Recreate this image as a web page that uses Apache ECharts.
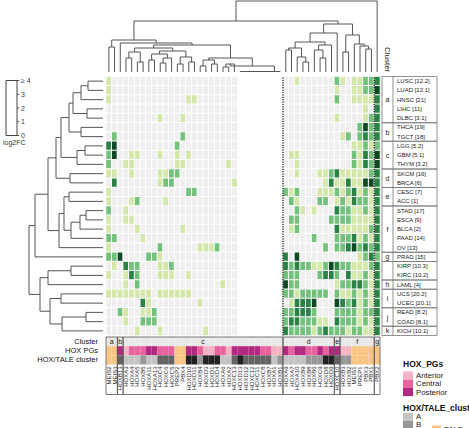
<!DOCTYPE html>
<html>
<head>
<meta charset="utf-8">
<title>HOX/TALE log2FC heatmap</title>
<script src="https://cdn.jsdelivr.net/npm/echarts@6.0.0/dist/echarts.min.js"></script>
<style>
  html, body { margin: 0; padding: 0; background: #fff; }
  #chart { width: 469px; height: 428px; }
</style>
</head>
<body>
<div id="chart"></div>
<script>
// heatmap columns, in dendrogram order
var genes = ['MEIS2','MEIS3','HOXB13','HOXA3','HOXA4','HOXA5','HOXB5','HOXA11','HOXA13','HOXC4',
  'HOXC6','HOXC5','PREP2','PBX4','HOXD10','HOXD11','HOXB4','HOXD3','HOXD1','HOXD4',
  'HOXA6','HOXA2','HOXC13','HOXD13','HOXD12','HOXC12','HOXC11','HOXC8','HOXB7','HOXA1',
  'HOXB1','HOXA9','HOXA7','HOXA10','HOXB9','HOXB8','HOXB6','HOXC9','HOXD8','HOXD9',
  'HOXC10','HOXB3','HOXB2','MEIS1','PREP1','PBX3','PBX1','PBX2'];
var geneCluster = ['a','a','b','c','c','c','c','c','c','c','c','c','c','c','c','c','c','c','c','c',
  'c','c','c','c','c','c','c','c','c','c','c','d','d','d','d','d','d','d','d','d',
  'e','f','f','f','f','f','f','g'];
// A = anterior, C = central, P = posterior, T = TALE
var hoxPG = ['T','T','P','A','C','C','C','P','P','C','C','C','T','T','P','P','C','A','A','C',
  'C','A','P','P','P','P','P','C','C','A','A','P','C','P','P','C','C','P','C','P',
  'P','A','A','T','T','T','T','T'];
var hoxTale = ['T','T','C','A','A','A','B','A','A','C','C','C','T','T','D','D','B','D','D','D',
  'A','A','C','D','C','C','C','C','C','A','B','A','A','A','A','B','B','B','D','D',
  'C','B','B','T','T','T','T','T'];

// heatmap rows
var tumours = ['LUSC [12.2]','LUAD [12.1]','HNSC [21]','LIHC [11]','DLBC [3.1]','THCA [19]','TGCT [18]',
  'LGG [5.2]','GBM [5.1]','THYM [3.2]','SKCM [16]','BRCA [6]','CESC [7]','ACC [1]','STAD [17]',
  'ESCA [9]','BLCA [2]','PAAD [14]','OV [13]','PRAD [15]','KIRP [10.3]','KIRC [10.2]','LAML [4]',
  'UCS [20.2]','UCEC [20.1]','READ [8.2]','COAD [8.1]','KICH [10.1]'];
var tumourCluster = ['a','a','a','a','a','b','b','c','c','c','d','d','e','e','f','f','f','f','f','g',
  '','','h','i','i','j','j','k'];

// log2FC, genes 1-23
var fcLeft = [
  [1,0,0,0,0,0,0,0,0,0,0,0,0,0,0,0,0,0,0,0,0,0,0],
  [1,0,0,0,0,0,0,0,0,0,0,0,0,0,0,0,0,0,0,0,0,0,0],
  [1,0,0,0,0,0,0,0,0,0,0,0,0,0,1,1,0,0,0,0,0,0,0],
  [0,0,0,0,0,0,0,0,0,0,0,0,0,0,0,0,0,0,0,0,0,0,0],
  [0,0,0,0,0,0,0,0,0,1,0,0,0,1,0,0,0,0,0,0,0,0,0],
  [0,0,0,0,0,0,0,0,0,0,0,0,0,0,0,0,0,0,0,0,0,0,0],
  [0,2,0,0,0,0,0,0,0,0,0,0,0,2,0,0,0,0,0,0,0,0,0],
  [3,4,0,0,0,0,0,0,0,0,0,0,2,0,0,0,0,0,0,0,0,0,0],
  [2,4,0,0,1,1,0,0,0,1,0,0,1,0,1,0,0,0,0,0,0,0,0],
  [2,0,0,1,1,0,0,0,0,0,0,0,1,1,0,0,0,0,0,0,0,1,0],
  [1,1,0,0,1,0,0,0,0,1,1,2,2,0,0,0,0,0,0,0,0,0,0],
  [0,3,0,0,0,0,0,0,0,1,2,2,0,0,0,0,0,0,0,0,0,0,1],
  [1,0,0,0,0,0,0,0,0,0,0,0,0,0,2,2,0,0,0,0,0,0,0],
  [1,0,0,0,1,2,0,0,0,0,1,0,0,0,0,0,0,0,0,0,0,0,0],
  [2,0,0,1,0,0,0,0,0,0,0,0,0,0,0,0,0,0,0,0,0,0,0],
  [1,0,0,1,1,0,0,0,0,0,0,0,0,0,0,0,0,0,0,0,0,0,0],
  [1,0,0,0,0,1,0,0,0,0,0,0,0,1,0,0,0,0,0,0,0,0,0],
  [2,2,0,0,0,0,1,0,0,0,0,0,0,0,0,0,0,0,0,0,0,0,0],
  [1,0,0,0,0,0,0,0,0,2,0,0,0,0,0,0,1,1,1,2,0,0,0],
  [2,2,4,0,0,0,0,2,2,1,0,0,0,0,0,0,0,0,0,0,0,0,0],
  [0,1,0,3,2,2,0,0,0,1,1,2,0,0,0,0,0,0,0,0,0,0,0],
  [1,0,0,1,3,2,0,0,0,1,1,1,0,0,1,0,0,0,0,0,0,0,0],
  [0,0,0,1,0,2,0,0,0,0,0,0,0,0,0,0,0,0,0,0,1,0,0],
  [1,1,1,1,1,1,1,1,0,1,1,1,1,1,1,0,0,0,0,0,0,0,0],
  [0,0,0,0,0,0,3,1,0,0,0,0,0,0,0,0,1,0,0,0,0,0,0],
  [0,0,2,1,0,0,1,1,2,0,0,0,0,0,0,0,0,0,0,0,0,0,0],
  [0,0,0,1,0,0,2,2,2,0,0,0,0,0,0,0,0,0,0,0,0,0,0],
  [0,0,0,0,0,1,0,0,0,1,0,0,0,0,0,0,0,1,0,0,0,0,0]
];
// genes 24-31 have no values (NA)
var fcNA = [null,null,null,null,null,null,null,null];
// log2FC, genes 32-48
var fcRight = [
  [0,0,1,0,0,0,0,0,0,2,1,0,1,1,2,2,3],
  [0,0,0,0,0,0,0,0,0,1,0,0,1,1,2,2,4],
  [0,0,0,0,0,0,0,0,0,2,0,0,1,1,1,1,3],
  [0,0,0,0,0,0,0,0,0,0,0,0,0,0,1,0,3],
  [0,0,0,0,0,0,0,0,0,1,0,0,0,0,1,2,3],
  [0,0,0,0,0,0,0,0,0,0,0,0,0,2,4,2,3],
  [0,0,0,0,0,0,0,0,0,0,1,2,0,2,3,2,3],
  [0,0,0,0,0,0,0,0,0,0,0,0,1,1,2,1,2],
  [0,1,1,0,0,0,0,0,0,0,0,0,2,1,3,2,4],
  [0,0,1,0,0,0,0,0,0,0,0,0,2,1,3,2,4],
  [0,0,1,0,0,0,1,1,2,3,1,1,1,1,1,2,3],
  [0,0,0,0,0,0,0,1,3,1,1,3,1,1,4,4,3],
  [2,1,2,0,0,0,1,1,1,2,1,2,3,1,2,1,3],
  [0,2,1,0,0,0,2,2,0,1,2,1,3,2,2,1,3],
  [0,0,2,1,0,1,0,0,0,3,2,2,1,1,2,1,3],
  [0,2,2,0,0,0,0,0,2,2,2,2,1,1,1,1,3],
  [0,1,2,0,0,0,0,0,0,3,1,1,1,1,1,2,3],
  [0,0,0,0,0,2,0,0,0,2,2,2,3,1,2,1,3],
  [0,0,0,0,0,0,0,2,0,2,2,3,4,2,3,2,3],
  [3,0,4,0,0,0,0,0,0,0,0,0,0,1,2,3,2],
  [3,2,3,2,2,1,1,2,4,3,2,2,1,1,1,2,3],
  [2,2,2,0,0,0,2,3,3,2,0,3,1,1,2,1,3],
  [4,2,2,0,0,0,0,0,0,1,2,2,3,3,2,1,3],
  [2,2,1,2,2,2,2,2,0,2,1,1,2,1,2,1,3],
  [0,1,3,3,3,4,0,0,0,4,3,2,3,1,2,1,3],
  [2,2,3,3,3,2,0,0,0,2,2,2,2,1,2,2,3],
  [2,3,3,2,2,2,1,1,0,3,2,2,2,1,2,1,3],
  [3,2,2,2,2,1,2,3,2,2,2,1,2,2,1,1,3]
];
// column slices end after these genes (dotted split lines)
var colSlices = [31, 47];

// dendrograms: [left, right, height]; positive = leaf number, negative = earlier merge
var colMerge = [
  [1,2,25],[4,5,14],[6,7,10],[-2,-3,20],[8,9,12],[10,11,9],[-6,12,14],[-5,-7,18],
  [13,14,8],[15,16,10],[-9,-10,15],[-8,-11,21],[-4,-12,24],[17,18,6],[19,20,8],[-14,-15,12],
  [21,22,5],[-17,23,8],[24,25,0.5],[-19,26,0.5],[-20,27,0.5],[-21,28,0.5],[-22,29,0.5],[-23,30,0.5],
  [-24,31,0.5],[-18,-25,6],[-16,-26,14],[-13,-27,27],[3,-28,29],[-1,-29,32],
  [32,33,22],[35,36,10],[34,-32,15],[-31,-33,24],[38,39,14],[37,-35,22],[-36,40,27],[-34,-37,30],
  [-38,41,39],[42,43,20],[46,47,23],[45,-41,26],[44,-42,28],[-40,-43,37],[-39,-44,48],[-30,-45,51],
  [-46,48,71]
];
var rowMerge = [
  [1,2,15],[-1,3,22],[4,5,16],[-2,-3,30],[6,7,22],[-4,-5,34],[8,9,18],[-7,10,26],[-6,-8,42],
  [11,12,33],[-9,-10,47],[13,14,34],[15,16,17],[-13,17,23],[-14,18,32],[-12,-15,39],[-16,19,44],
  [-11,-17,55],[-18,20,68],[21,22,32],[-20,23,55],[24,25,42],[26,27,17],[-23,28,41],[-22,-24,53],
  [-21,-25,63],[-19,-26,74]
];

var annRows = ['Cluster', 'HOX PGs', 'HOX/TALE cluster'];
var pgNames = ['Anterior', 'Central', 'Posterior'];
var pgColors = {A: '#f6b3c4', C: '#e8629f', P: '#b3297f', T: '#f9c584'};
var taleNames = ['A', 'B'];
var taleColors = {A: '#c3c3c3', B: '#979797', C: '#636363', D: '#222222', T: '#f9c584'};
var fcColors = ['#efefef', '#d4e7ab', '#74c07d', '#2b8246', '#0d4a24'];
var keyLabels = ['0', '1', '2', '3', '\u2265 4'];

var FONT = '"Liberation Sans", Arial, Helvetica, sans-serif';
var LINE = '#555';

var heatData = [];
tumours.forEach(function (t, r) {
  var row = fcLeft[r].concat(fcNA, fcRight[r]);
  row.forEach(function (v, c) {
    if (v !== null) heatData.push([c, r, v]);
  });
});

function dendroLinks(merges) {
  var pos = [], hgt = [], links = [];
  function node(k) {
    return k > 0 ? [k, 0] : [pos[-k - 1], hgt[-k - 1]];
  }
  merges.forEach(function (m) {
    var a = node(m[0]), b = node(m[1]);
    pos.push((a[0] + b[0]) / 2);
    hgt.push(m[2]);
    links.push([a[0], a[1], b[0], b[1], m[2]]);
  });
  return links;
}
var colLinks = dendroLinks(colMerge);
var rowLinks = dendroLinks(rowMerge);

function segments(labels) {
  var out = [];
  labels.forEach(function (l, i) {
    var last = out[out.length - 1];
    if (last && last[2] === l) last[1] = i;
    else out.push([i, i, l]);
  });
  return out;
}
var geneSegs = segments(geneCluster);
var tumourSegs = segments(tumourCluster);

var annData = [];
genes.forEach(function (g, i) {
  annData.push([i, 0, '#e8e8e8']);
  annData.push([i, 1, pgColors[hoxPG[i]]]);
  annData.push([i, 2, taleColors[hoxTale[i]]]);
});

function txt(text, x, y, size, opts) {
  opts = opts || {};
  return {
    type: 'text', x: x, y: y, rotation: opts.rotation || 0, z: 10,
    style: {
      text: text, fontSize: size, fontFamily: FONT, fontWeight: opts.bold ? 'bold' : 'normal',
      fill: opts.color || '#222',
      align: opts.align || 'left', verticalAlign: 'middle',
      textAlign: opts.align || 'left', textVerticalAlign: 'middle'
    }
  };
}
function box(x, y, w, h, fill, stroke) {
  return {type: 'rect', z: 10, shape: {x: x, y: y, width: w, height: h},
    style: {fill: fill, stroke: stroke || null, lineWidth: 1}};
}

var graphics = [];
// log2FC key
graphics.push(box(6, 80.5, 11, 55, '#fff', '#444'));
keyLabels.forEach(function (l, v) {
  var y = 135.5 - v * 13.75;
  graphics.push({type: 'line', z: 10, shape: {x1: 17, y1: y, x2: 19, y2: y}, style: {stroke: '#444', lineWidth: 1}});
  graphics.push(txt(l, 21, y, 7, {color: '#333'}));
});
graphics.push(txt('log2FC', 3, 142, 7, {color: '#333'}));
// title above the row cluster column
graphics.push(txt('Cluster', 387.5, 47, 8, {rotation: -Math.PI / 2}));
// HOX_PGs legend
graphics.push(txt('HOX_PGs', 403, 363.5, 8.5, {bold: true, color: '#111'}));
pgNames.forEach(function (n, i) {
  graphics.push(box(403, 371.5 + i * 8.2, 10, 8.2, pgColors[n.charAt(0)]));
  graphics.push(txt(n, 416, 375.6 + i * 8.2, 7.8));
});
// HOX/TALE_cluster legend
graphics.push(txt('HOX/TALE_cluster', 403, 407.5, 8.5, {bold: true, color: '#111'}));
taleNames.forEach(function (n, i) {
  graphics.push(box(403, 412.8 + i * 8, 10, 8, taleColors[n]));
  graphics.push(txt(n, 416, 416.8 + i * 8, 7.8));
});
graphics.push(box(432, 425.5, 9, 8, taleColors.T));
graphics.push(txt('TALE', 444, 429.5, 7.8));

var chart = echarts.init(document.getElementById('chart'), null, {renderer: 'svg'});
var option = {
  animation: false,
  textStyle: {fontFamily: FONT},
  grid: [
    {left: 106, top: 76.5, width: 274, height: 259, outerBoundsMode: 'none'},
    {left: 29, top: 76.5, width: 74, height: 259, outerBoundsMode: 'none'},
    {left: 106, top: 1, width: 274, height: 71, outerBoundsMode: 'none'},
    {left: 106, top: 76.5, width: 274, height: 259, outerBoundsMode: 'none'},
    {left: 106, top: 337, width: 274, height: 27.5, outerBoundsMode: 'none'},
    {left: 382, top: 76.5, width: 55, height: 259, outerBoundsMode: 'none'}
  ],
  xAxis: [
    {gridIndex: 0, type: 'category', data: genes, show: false},
    {gridIndex: 1, type: 'value', min: 0, max: 74, inverse: true, show: false},
    {gridIndex: 2, type: 'value', min: 0.5, max: 48.5, show: false},
    {gridIndex: 3, type: 'value', min: 0.5, max: 48.5, show: false},
    {gridIndex: 4, type: 'category', data: genes, position: 'bottom',
      axisLine: {show: false}, axisTick: {show: false}, splitLine: {show: false},
      axisLabel: {interval: 0, rotate: 90, fontSize: 6, margin: 2, color: '#222', fontFamily: FONT}},
    {gridIndex: 5, type: 'value', min: 0, max: 1, show: false}
  ],
  yAxis: [
    {gridIndex: 0, type: 'category', data: tumours, inverse: true, show: false},
    {gridIndex: 1, type: 'value', min: 0.5, max: 28.5, inverse: true, show: false},
    {gridIndex: 2, type: 'value', min: 0, max: 71, show: false},
    {gridIndex: 3, type: 'value', min: 0, max: 1, show: false},
    {gridIndex: 4, type: 'category', data: annRows, inverse: true,
      axisLine: {show: false}, axisTick: {show: false}, splitLine: {show: false},
      axisLabel: {interval: 0, fontSize: 7.5, margin: 8, color: '#111', fontFamily: FONT}},
    {gridIndex: 5, type: 'category', data: tumours, inverse: true,
      axisLine: {show: false}, axisTick: {show: false}, splitLine: {show: false},
      axisLabel: {interval: 0, inside: true, margin: 15, fontSize: 6, color: '#222', fontFamily: FONT}}
  ],
  visualMap: {
    type: 'piecewise', show: false, seriesIndex: 0, dimension: 2,
    pieces: fcColors.map(function (c, v) { return {value: v, color: c}; })
  },
  series: [
    {
      type: 'heatmap', xAxisIndex: 0, yAxisIndex: 0, data: heatData,
      itemStyle: {borderColor: '#fff', borderWidth: 1},
      emphasis: {disabled: true}
    },
    {
      type: 'custom', xAxisIndex: 1, yAxisIndex: 1,
      data: rowLinks.map(function (l) { return [l[4], l[0]]; }),
      renderItem: function (params, api) {
        var l = rowLinks[params.dataIndex];
        return {type: 'polyline', shape: {points: [
          api.coord([l[1], l[0]]), api.coord([l[4], l[0]]),
          api.coord([l[4], l[2]]), api.coord([l[3], l[2]])
        ]}, style: {stroke: LINE, lineWidth: 1, fill: 'none'}};
      }
    },
    {
      type: 'custom', xAxisIndex: 2, yAxisIndex: 2,
      data: colLinks.map(function (l) { return [l[0], l[4]]; }),
      renderItem: function (params, api) {
        var l = colLinks[params.dataIndex];
        return {type: 'polyline', shape: {points: [
          api.coord([l[0], l[1]]), api.coord([l[0], l[4]]),
          api.coord([l[2], l[4]]), api.coord([l[2], l[3]])
        ]}, style: {stroke: LINE, lineWidth: 1, fill: 'none'}};
      }
    },
    {
      type: 'custom', xAxisIndex: 3, yAxisIndex: 3, z: 5,
      data: colSlices.map(function (s) { return [s + 0.5, 0]; }),
      renderItem: function (params, api) {
        var x = api.value(0);
        var p0 = api.coord([x, 0]), p1 = api.coord([x, 1]);
        return {type: 'line', shape: {x1: p0[0], y1: p0[1], x2: p1[0], y2: p1[1]},
          style: {stroke: '#222', lineWidth: 1.3, lineDash: [1.2, 1.2]}};
      }
    },
    {
      type: 'custom', xAxisIndex: 4, yAxisIndex: 4,
      data: annData.map(function (d) { return [d[0], d[1]]; }),
      renderItem: function (params, api) {
        var d = annData[params.dataIndex];
        var c = api.coord([d[0], d[1]]), s = api.size([1, 1]);
        return {type: 'rect', shape: {x: c[0] - s[0] / 2, y: c[1] - s[1] / 2, width: s[0], height: s[1]},
          style: {fill: d[2]}};
      }
    },
    {
      type: 'custom', xAxisIndex: 4, yAxisIndex: 4, z: 6,
      data: geneSegs.map(function (s) { return [s[0], 0]; }),
      renderItem: function (params, api) {
        var s = geneSegs[params.dataIndex];
        var a = api.coord([s[0], 0]), b = api.coord([s[1], 0]), sz = api.size([1, 1]);
        var x0 = a[0] - sz[0] / 2, x1 = b[0] + sz[0] / 2, y0 = a[1] - sz[1] / 2, y1 = y0 + 57.5;
        var st = {stroke: '#555', lineWidth: 0.8};
        return {type: 'group', children: [
          {type: 'line', shape: {x1: x0, y1: y0, x2: x0, y2: y1}, style: st},
          {type: 'line', shape: {x1: x1, y1: y0, x2: x1, y2: y1}, style: st},
          {type: 'line', shape: {x1: x0, y1: y0, x2: x1, y2: y0}, style: st},
          {type: 'line', shape: {x1: x0, y1: y1, x2: x1, y2: y1}, style: st},
          {type: 'text', style: {text: s[2], x: (x0 + x1) / 2, y: a[1], fontSize: 7, fontFamily: FONT, fill: '#222',
            align: 'center', verticalAlign: 'middle', textAlign: 'center', textVerticalAlign: 'middle'}}
        ]};
      }
    },
    {
      type: 'custom', xAxisIndex: 5, yAxisIndex: 5,
      data: tumourSegs.map(function (s) { return [0, s[0]]; }),
      renderItem: function (params, api) {
        var g = tumourSegs[params.dataIndex];
        var a = api.coord([0, g[0]]), b = api.coord([1, g[1]]);
        var h = api.size([0, 1])[1];
        var y0 = a[1] - h / 2, y1 = b[1] + h / 2;
        var xd = api.coord([0.2, g[0]])[0];
        var st = {stroke: '#777', lineWidth: 0.8, fill: 'none'};
        return {type: 'group', children: [
          {type: 'rect', shape: {x: a[0], y: y0, width: b[0] - a[0], height: y1 - y0}, style: st},
          {type: 'line', shape: {x1: xd, y1: y0, x2: xd, y2: y1}, style: st},
          {type: 'text', style: {text: g[2], x: (a[0] + xd) / 2, y: (y0 + y1) / 2, fontSize: 7, fontFamily: FONT,
            fill: '#222', align: 'center', verticalAlign: 'middle', textAlign: 'center', textVerticalAlign: 'middle'}}
        ]};
      }
    }
  ],
  graphic: graphics
};
chart.setOption(option);
</script>
</body>
</html>
